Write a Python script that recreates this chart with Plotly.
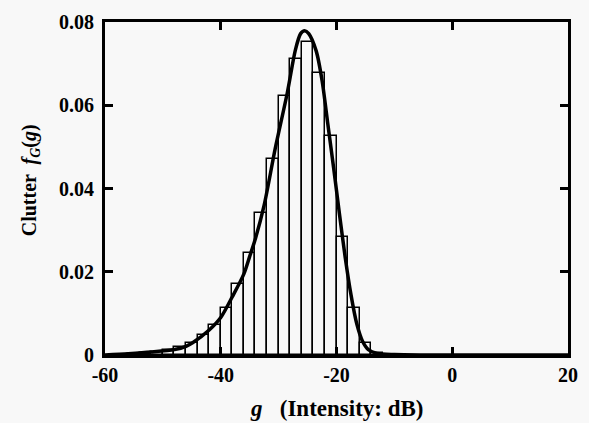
import plotly.graph_objects as go

# histogram: bin centres (dB) and densities, bin width 2 dB
bin_centres = [-57, -55, -53, -51, -49, -47, -45, -43, -41, -39, -37, -35, -33,
               -31, -29, -27, -25, -23, -21, -19, -17, -15, -13, -11]
bin_density = [0.0001, 0.0002, 0.0004, 0.0007, 0.0012, 0.0019, 0.0030, 0.0047,
               0.0072, 0.0113, 0.0170, 0.0244, 0.0342, 0.0472, 0.0623, 0.0711,
               0.0751, 0.0677, 0.0525, 0.0284, 0.0114, 0.0028, 0.0006, 0.0001]

# fitted density curve
curve_g = [-60, -56, -52, -48, -46, -44.8, -42, -40, -38, -36, -35, -34, -32.5,
           -30.6, -28.5, -27.1, -26.2, -25.5, -24.8, -23.5, -22.5, -21.5, -20.5,
           -19.5, -18.5, -17.5, -16.5, -15.5, -14.5, -13, -10, -5, 0, 20]
curve_f = [0.0, 0.0003, 0.0007, 0.0013, 0.0021, 0.0030, 0.0060, 0.0090, 0.0140,
           0.0195, 0.0237, 0.0280, 0.0360, 0.0495, 0.0630, 0.0733, 0.0772, 0.0779,
           0.0772, 0.0730, 0.0660, 0.0555, 0.0450, 0.0340, 0.0235, 0.0145, 0.0075,
           0.0033, 0.0013, 0.0004, 0.0001, 0.0, 0.0, 0.0]

x_ticks = [-60, -40, -20, 0, 20]
x_ticktext = ['-60', '-40', '-20', '0', '20']
y_ticks = [0, 0.02, 0.04, 0.06, 0.08]
y_ticktext = ['0', '0.02', '0.04', '0.06', '0.08']

font_family = "Liberation Serif, Times New Roman, serif"

fig = go.Figure()

# histogram bars (outline only)
fig.add_trace(go.Bar(x=bin_centres, y=bin_density, width=2,
                     marker=dict(color='rgba(0,0,0,0)', line=dict(color='black', width=1.5)),
                     showlegend=False))

# fitted curve
fig.add_trace(go.Scatter(x=curve_g, y=curve_f, mode='lines',
                         line=dict(color='black', width=3.5, shape='spline', smoothing=0.8),
                         showlegend=False))

axis_common = dict(showline=True, linecolor='black', linewidth=3, mirror='ticks',
                   ticks='inside', ticklen=8, tickwidth=2.5, tickcolor='black',
                   showgrid=False, zeroline=False, ticklabeloverflow='allow',
                   tickfont=dict(family=font_family, size=20, color='black', weight='bold'))

fig.update_layout(
    width=589, height=423,
    margin=dict(l=105, r=19, t=11, b=68),
    paper_bgcolor='#f8f8f8', plot_bgcolor='#f8f8f8',
    bargap=0,
    xaxis=dict(range=[-60, 20], tickvals=x_ticks, ticktext=x_ticktext, **axis_common),
    yaxis=dict(range=[0, 0.08], tickvals=y_ticks, ticktext=y_ticktext,
               ticklabelstandoff=4, **axis_common),
    annotations=[
        dict(text='<i>g</i>   (Intensity: dB)', xref='paper', yref='paper',
             x=0.5, y=-0.16, xanchor='center', yanchor='middle', showarrow=False,
             font=dict(family=font_family, size=23, color='black', weight='bold')),
        dict(text='Clutter  <i>f</i><sub><i>G</i></sub>(<i>g</i>)', xref='paper', yref='paper',
             x=-0.161, y=0.526, xanchor='center', yanchor='middle', textangle=-90,
             showarrow=False,
             font=dict(family=font_family, size=20, color='black', weight='bold')),
    ],
)

# drop the browser's default body margin so the figure fills the window
fig.write_html("out.html", config={'displayModeBar': False},
               post_script="document.body.style.margin='0';")
